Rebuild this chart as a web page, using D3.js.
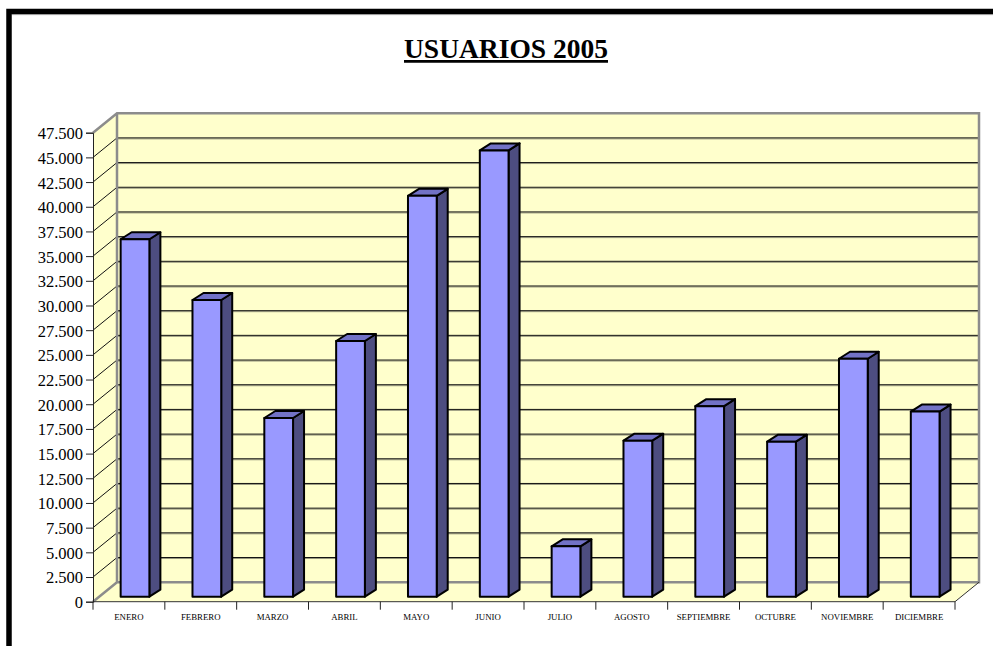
<!DOCTYPE html>
<html>
<head>
<meta charset="utf-8">
<script src="https://cdn.jsdelivr.net/npm/d3@7"></script>
<style>
body{margin:0;background:#fff}
</style>
</head>
<body>
<div id="chart"></div>
<script>
let months = ["ENERO","FEBRERO","MARZO","ABRIL","MAYO","JUNIO","JULIO","AGOSTO","SEPTIEMBRE","OCTUBRE","NOVIEMBRE","DICIEMBRE"]
let usuarios = [36200, 30050, 18100, 25900, 40600, 45200, 5100, 15800, 19300, 15700, 24100, 18750]
let yTicks = d3.range(0, 47501, 2500)
let title = "USUARIOS 2005"

let serif = "'Liberation Serif', 'Times New Roman', Times, serif"
let width = 993, height = 646
let svg = d3.select("div#chart").append("svg")
    .attr("width", width)
    .attr("height", height)
    .style("font-family", serif)

// marco negro (solo arriba e izquierda se ven)
svg.append("path")
    .attr("d", "M9,646 V11.5 H993")
    .style("fill", "none")
    .style("stroke", "#000")
    .style("stroke-width", 5.5)
svg.append("line").attr("x1", 12).attr("x2", 993).attr("y1", 14.6).attr("y2", 14.6)
    .style("stroke", "#999").style("stroke-width", 1)

// plano frontal y profundidad
let x0 = 93, x1 = 955, yBase = 601.7, yTop = 132.7
let ddx = 24, ddy = -19.5

let x = d3.scaleBand().domain(months).range([x0, x1])
let y = d3.scaleLinear().domain([0, 47500]).range([yBase, yTop])
let loc = d3.formatLocale({decimal: ",", thousands: ".", grouping: [3], currency: ["", ""]})
let fmt = loc.format(",d")

let wall = "#FFFFCC", edge = "#8c8c8c"
let g = svg.append("g")

// pared de fondo
g.append("rect")
    .attr("x", x0 + ddx).attr("y", yTop + ddy)
    .attr("width", x1 - x0).attr("height", yBase - yTop)
    .style("fill", wall)
// pared lateral
g.append("polygon")
    .attr("points", [[x0, yBase], [x0, yTop], [x0 + ddx, yTop + ddy], [x0 + ddx, yBase + ddy]].join(" "))
    .style("fill", wall)
// suelo
g.append("polygon")
    .attr("points", [[x0, yBase], [x1, yBase], [x1 + ddx, yBase + ddy], [x0 + ddx, yBase + ddy]].join(" "))
    .style("fill", wall)

// lineas de division
let grid = yTicks.filter(d => d > 0 && d < 47500)
g.selectAll("line.shadow").data(grid).enter().append("line")
    .attr("class", "shadow")
    .attr("x1", x0 + ddx).attr("x2", x1 + ddx)
    .attr("y1", d => y(d) + ddy + 1).attr("y2", d => y(d) + ddy + 1)
    .style("stroke", "#9a9a80").style("stroke-width", 1)
g.selectAll("line.grid").data(grid).enter().append("line")
    .attr("class", "grid")
    .attr("x1", x0 + ddx).attr("x2", x1 + ddx)
    .attr("y1", d => y(d) + ddy).attr("y2", d => y(d) + ddy)
    .style("stroke", "#111").style("stroke-width", 1)
g.selectAll("line.diag").data(grid).enter().append("line")
    .attr("class", "diag")
    .attr("x1", x0).attr("x2", x0 + ddx)
    .attr("y1", d => y(d)).attr("y2", d => y(d) + ddy)
    .style("stroke", "#111").style("stroke-width", 1)

// bordes grises de las paredes
g.append("path")
    .attr("d", "M" + x0 + "," + yTop + " L" + (x0 + ddx) + "," + (yTop + ddy) +
        " H" + (x1 + ddx) + " V" + (yBase + ddy) + " H" + (x0 + ddx) + " V" + (yTop + ddy) +
        " M" + (x0 + ddx) + "," + (yBase + ddy) + " L" + x0 + "," + yBase)
    .style("fill", "none").style("stroke", edge).style("stroke-width", 2.5)
g.append("path")
    .attr("d", "M" + x0 + "," + yBase + " H" + x1 + " L" + (x1 + ddx) + "," + (yBase + ddy))
    .style("fill", "none").style("stroke", "#333").style("stroke-width", 1)

// eje Y
let yAxis = d3.axisLeft(y).tickValues(yTicks).tickFormat(fmt).tickSize(7)
let ya = svg.append("g").attr("transform", "translate(" + x0 + ",0)").call(yAxis)
    .attr("font-family", null)
ya.select(".domain").style("stroke", "#222")
ya.selectAll(".tick line").style("stroke", "#222")
ya.selectAll(".tick text")
    .attr("x", -10)
    .attr("dy", "0.36em")
    .style("font-family", serif)
    .style("font-size", "16.5px")
    .style("fill", "#000")

// eje X
let xa = svg.append("g")
xa.selectAll("line").data(d3.range(months.length + 1)).enter().append("line")
    .attr("x1", i => x0 + i * x.step()).attr("x2", i => x0 + i * x.step())
    .attr("y1", yBase).attr("y2", yBase + 8)
    .style("stroke", "#222").style("stroke-width", 1)
xa.selectAll("text").data(months).enter().append("text")
    .attr("x", d => x(d) + x.bandwidth() / 2)
    .attr("y", 620)
    .attr("text-anchor", "middle")
    .style("font-family", serif)
    .style("font-size", "8.8px")
    .text(d => d)

// barras 3D
let t0x = 6.1, t0y = -5          // posicion del frente de la barra en profundidad
let bdx = 11, bdy = -7           // profundidad de la barra
let bw = x.bandwidth() * 0.4
let bars = svg.append("g").selectAll("g").data(months).enter().append("g")
bars.each(function(d, i){
    let b = d3.select(this)
    let cx = x(d) + x.bandwidth() / 2 + t0x
    let l = cx - bw / 2, r = cx + bw / 2
    let bot = yBase + t0y, top = y(usuarios[i]) + t0y
    b.append("polygon")
        .attr("points", [[r, bot], [r, top], [r + bdx, top + bdy], [r + bdx, bot + bdy]].join(" "))
        .style("fill", "#4D4D80")
    b.append("polygon")
        .attr("points", [[l, top], [r, top], [r + bdx, top + bdy], [l + bdx, top + bdy]].join(" "))
        .style("fill", "#7272C6")
    b.append("rect")
        .attr("x", l).attr("y", top).attr("width", bw).attr("height", bot - top)
        .style("fill", "#9999FF")
    b.selectAll("polygon, rect")
        .style("stroke", "#000").style("stroke-width", 2).style("stroke-linejoin", "round")
})

// titulo
svg.append("text")
    .attr("x", 506).attr("y", 58)
    .attr("text-anchor", "middle")
    .style("font-family", serif)
    .style("font-size", "27.5px")
    .style("font-weight", "bold")
    .style("text-decoration", "underline")
    .text(title)
</script>
</body>
</html>
